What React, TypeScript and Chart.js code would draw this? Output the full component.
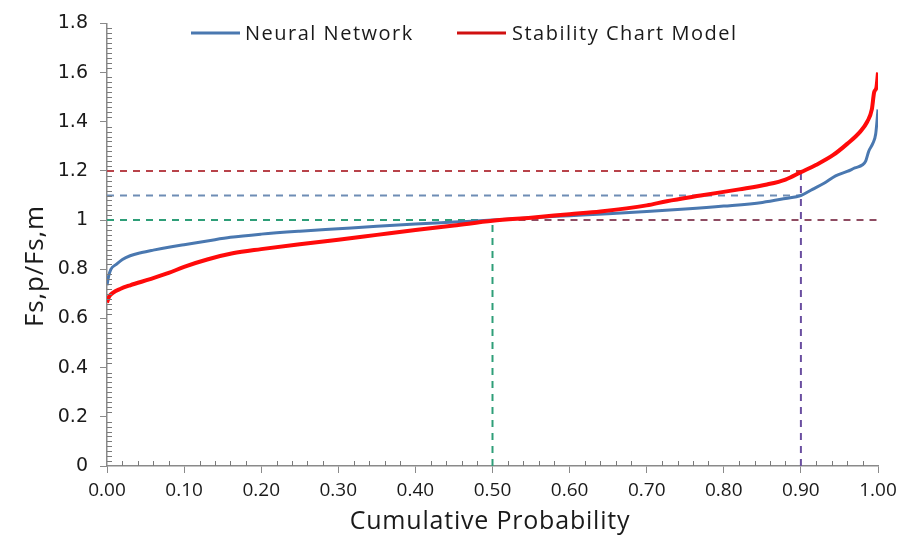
import React, { useEffect, useRef } from "react";
import { Chart, registerables } from "chart.js";

Chart.register(...registerables);

const nnX = [0, 0.002, 0.005, 0.012, 0.02, 0.03, 0.045, 0.06, 0.08, 0.1, 0.13, 0.16, 0.2, 0.25, 0.3, 0.35, 0.4, 0.45, 0.5, 0.55, 0.6, 0.65, 0.7, 0.75, 0.8, 0.85, 0.88, 0.9, 0.915, 0.93, 0.945, 0.96, 0.97, 0.98, 0.984, 0.988, 0.993, 0.997, 1.0];
const nnY = [0.735, 0.77, 0.8, 0.82, 0.84, 0.855, 0.868, 0.878, 0.89, 0.9, 0.915, 0.93, 0.943, 0.955, 0.965, 0.975, 0.984, 0.992, 1.0, 1.01, 1.018, 1.026, 1.035, 1.045, 1.057, 1.072, 1.088, 1.1, 1.125, 1.15, 1.18, 1.198, 1.212, 1.225, 1.24, 1.28, 1.31, 1.35, 1.45];

const scX = [0, 0.003, 0.008, 0.017, 0.03, 0.056, 0.08, 0.1, 0.13, 0.163, 0.2, 0.25, 0.3, 0.35, 0.4, 0.45, 0.5, 0.55, 0.6, 0.64, 0.7, 0.726, 0.77, 0.82, 0.856, 0.88, 0.9, 0.92, 0.942, 0.96, 0.977, 0.986, 0.992, 0.995, 0.998, 1.0];
const scY = [0.665, 0.69, 0.705, 0.72, 0.735, 0.76, 0.785, 0.81, 0.84, 0.865, 0.882, 0.902, 0.92, 0.94, 0.96, 0.978, 0.997, 1.01, 1.024, 1.035, 1.06, 1.077, 1.1, 1.125, 1.145, 1.165, 1.195, 1.225, 1.265, 1.31, 1.36, 1.4, 1.45, 1.52, 1.54, 1.6];

// reference lines: [x1, y1, x2, y2]
const refRed12 = [0, 1.2, 0.9, 1.2];
const refBlue11 = [0, 1.1, 0.9, 1.1];
const refGreen10 = [0, 1.0, 0.5, 1.0];
const refMaroon10 = [0.5, 1.0, 1.0, 1.0];
const refGreenV = [0.5, 0, 0.5, 1.0];
const refPurpleV = [0.9, 0, 0.9, 1.2];

const seriesNames = ["Neural Network", "Stability Chart Model"];
const xTitle = "Cumulative Probability";
const yTitle = "Fs,p/Fs,m";

const BLUE = "#4a78b0";
const RED = "#ff0a0a";

function pts(xs: number[], ys: number[]) {
  return xs.map((x, i) => ({ x, y: ys[i] }));
}
function seg(s: number[]) {
  return [{ x: s[0], y: s[1] }, { x: s[2], y: s[3] }];
}

export default function App() {
  const ref = useRef<HTMLCanvasElement | null>(null);

  useEffect(() => {
    document.body.style.margin = "0";
    const canvas = ref.current!;
    const dashed = (data: any, color: string) => ({
      data,
      borderColor: color,
      borderWidth: 2,
      borderDash: [7, 6],
      pointRadius: 0,
      showLine: true,
      fill: false,
      order: 5,
    });

    const decor = {
      id: "decor",
      afterDraw(chart: any) {
        const ctx = chart.ctx;
        const xs = chart.scales.x;
        const ys = chart.scales.y;
        const area = chart.chartArea;
        ctx.save();
        // minor ticks inside
        ctx.strokeStyle = "#7a7a7a";
        ctx.lineWidth = 1;
        for (let i = 1; i < 90; i++) {
          const v = i * 0.02;
          if (i % 10 === 0) continue;
          const py = Math.round(ys.getPixelForValue(v)) + 0.5;
          ctx.beginPath();
          ctx.moveTo(area.left, py);
          ctx.lineTo(area.left + 5, py);
          ctx.stroke();
        }
        for (let i = 1; i < 50; i++) {
          if (i % 5 === 0) continue;
          const v = i * 0.02;
          const px = Math.round(xs.getPixelForValue(v)) + 0.5;
          ctx.beginPath();
          ctx.moveTo(px, area.bottom);
          ctx.lineTo(px, area.bottom - 5);
          ctx.stroke();
        }
        // legend
        ctx.lineWidth = 3;
        ctx.strokeStyle = BLUE;
        ctx.beginPath();
        ctx.moveTo(191, 33);
        ctx.lineTo(240, 33);
        ctx.stroke();
        ctx.strokeStyle = "#d01010";
        ctx.beginPath();
        ctx.moveTo(457, 33);
        ctx.lineTo(506, 33);
        ctx.stroke();
        ctx.fillStyle = "#1a1a1a";
        ctx.font = "20px 'Open Sans'";
        (ctx as any).letterSpacing = "1.5px";
        ctx.textBaseline = "middle";
        ctx.textAlign = "left";
        ctx.fillText(seriesNames[0], 245, 34);
        ctx.fillText(seriesNames[1], 512, 34);
        // axis titles
        (ctx as any).letterSpacing = "0.8px";
        ctx.font = "25px 'Open Sans'";
        ctx.textAlign = "center";
        ctx.fillText(xTitle, 490, 522);
        ctx.font = "26px 'Open Sans'";
        ctx.translate(36, 266);
        ctx.rotate(-Math.PI / 2);
        ctx.fillText(yTitle, 0, 0);
        ctx.restore();
      },
    };

    const chart = new Chart(canvas, {
      type: "scatter",
      data: {
        datasets: [
          { data: pts(nnX, nnY), borderColor: BLUE, borderWidth: 3, pointRadius: 0, showLine: true, fill: false, order: 1, cubicInterpolationMode: "monotone" },
          { data: pts(scX, scY), borderColor: RED, borderWidth: 4, pointRadius: 0, showLine: true, fill: false, order: 0, cubicInterpolationMode: "monotone" },
          dashed(seg(refRed12), "#b8434a"),
          dashed(seg(refBlue11), "#6e8db5"),
          dashed(seg(refGreen10), "#2e9e78"),
          dashed(seg(refMaroon10), "#8e4c62"),
          dashed(seg(refGreenV), "#2e9e78"),
          dashed(seg(refPurpleV), "#6a4ea0"),
        ] as any,
      },
      options: {
        responsive: false,
        animation: false,
        layout: { padding: { top: 18, right: 36, left: 0, bottom: 0 } },
        plugins: { legend: { display: false }, tooltip: { enabled: false } },
        scales: {
          x: {
            type: "linear",
            min: 0,
            max: 1,
            afterFit: (s: any) => { s.height = 78; },
            ticks: {
              stepSize: 0.1,
              callback: (v: any) => Number(v).toFixed(2),
              font: { family: "'Open Sans'", size: 19 },
              color: "#1a1a1a",
              padding: 6,
              maxRotation: 0,
              autoSkip: false,
            },
            grid: { drawOnChartArea: false, drawTicks: true, tickLength: 7, color: "#8a8a8a", tickColor: "#8a8a8a", lineWidth: 1 },
            border: { color: "#8a8a8a", width: 1.5 },
          },
          y: {
            min: 0,
            max: 1.8,
            afterFit: (s: any) => { s.width = 107; },
            ticks: {
              stepSize: 0.2,
              callback: (v: any) => String(Number(Number(v).toFixed(1))),
              font: { family: "'DejaVu Sans'", size: 19 },
              color: "#1a1a1a",
              padding: 12,
              autoSkip: false,
            },
            grid: { drawOnChartArea: false, drawTicks: true, tickLength: 7, color: "#8a8a8a", tickColor: "#8a8a8a", lineWidth: 1 },
            border: { color: "#8a8a8a", width: 1.5 },
          },
        },
      },
      plugins: [decor],
    } as any);
    return () => chart.destroy();
  }, []);

  return (
    <div style={{ width: 914, height: 544, background: "#fff" }}>
      <canvas ref={ref} width={914} height={544} style={{ display: "block" }} />
    </div>
  );
}
